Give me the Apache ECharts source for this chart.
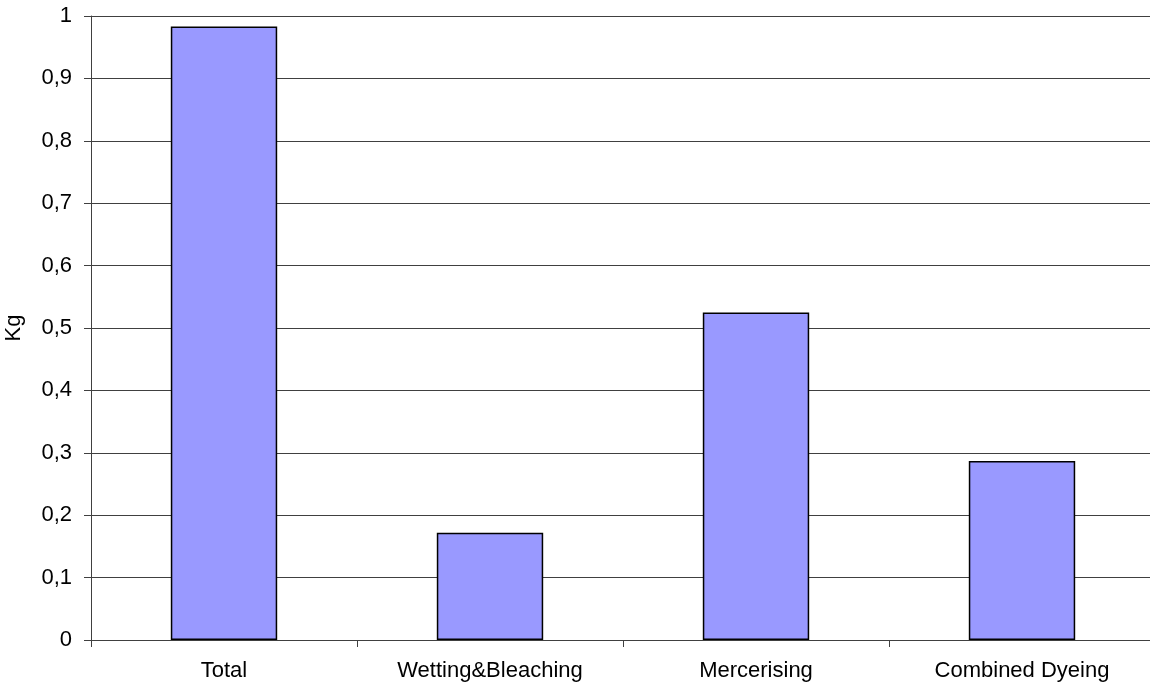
<!DOCTYPE html>
<html>
<head>
<meta charset="utf-8">
<title>Kg per process</title>
<script src="https://cdn.jsdelivr.net/npm/echarts@6/dist/echarts.min.js"></script>
<style>
  html, body { margin: 0; padding: 0; background: #fff; }
  #chart { width: 1150px; height: 688px; }
</style>
</head>
<body>
<div id="chart"></div>
<script>
// Process categories and their amounts (Kg)
const categories = ['Total', 'Wetting&Bleaching', 'Mercerising', 'Combined Dyeing'];
const values = [0.983, 0.172, 0.525, 0.287];
const yAxisName = 'Kg';

const fontFamily = '"Liberation Sans", Arial, sans-serif';
const lineColor = '#404040';

const chart = echarts.init(document.getElementById('chart'), null, { renderer: 'canvas' });

chart.setOption({
  animation: false,
  backgroundColor: '#ffffff',
  grid: {
    left: 91, top: 16, width: 1064, bottom: 48,
    containLabel: false,
    outerBoundsMode: 'none'
  },
  xAxis: {
    type: 'category',
    data: categories,
    boundaryGap: true,
    axisLine: { show: true, lineStyle: { color: lineColor, width: 1 } },
    axisTick: { show: true, length: 7, alignWithLabel: false, lineStyle: { color: lineColor } },
    axisLabel: { color: '#000', fontFamily: fontFamily, fontSize: 22, margin: 20, interval: 0 },
    splitLine: { show: false }
  },
  yAxis: {
    type: 'value',
    min: 0,
    max: 1,
    interval: 0.1,
    name: yAxisName,
    nameLocation: 'middle',
    nameGap: 66,
    nameRotate: 90,
    nameTextStyle: { color: '#000', fontFamily: fontFamily, fontSize: 22 },
    axisLine: { show: true, lineStyle: { color: lineColor, width: 1 } },
    axisTick: { show: true, length: 7, lineStyle: { color: lineColor } },
    axisLabel: {
      color: '#000',
      fontFamily: fontFamily,
      fontSize: 22,
      margin: 19,
      formatter: v => (Math.round(v * 10) / 10).toString().replace('.', ',')
    },
    splitLine: { show: true, lineStyle: { color: lineColor, width: 1 } }
  },
  series: [{
    type: 'bar',
    data: values,
    barWidth: '40%',
    itemStyle: { color: '#9999FF', borderColor: '#000000', borderWidth: 1.5 }
  }]
});
</script>
</body>
</html>
